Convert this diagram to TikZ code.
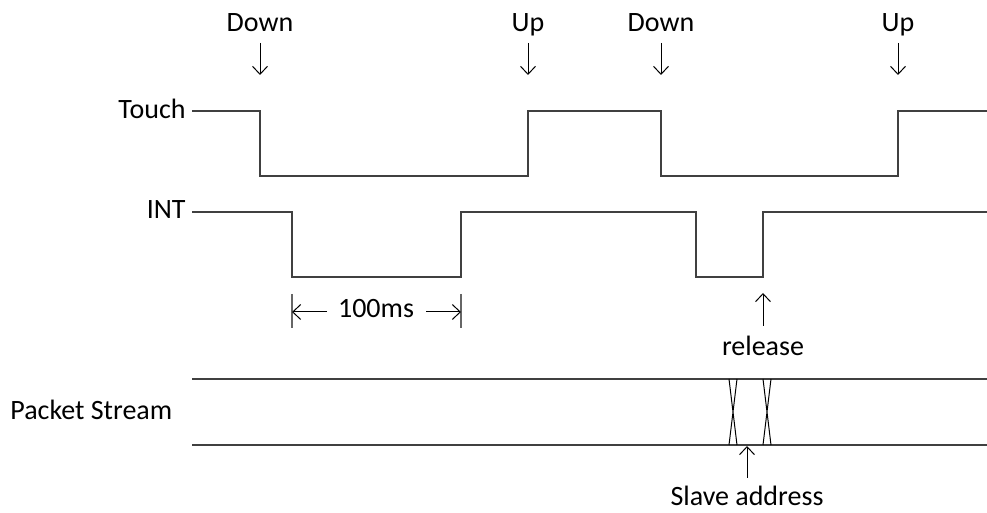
\documentclass[tikz,border=0pt]{standalone}
\usepackage{fontspec}
\setmainfont{Carlito}
\usetikzlibrary{arrows.meta}
\begin{document}
\begin{tikzpicture}[x=0.5pt,y=-0.5pt,
 lbl/.style={font=\fontsize{14}{16}\selectfont, inner sep=0pt},
 sig/.style={draw=black!75, line width=0.75pt},
 arr/.style={draw=black, line width=0.5pt, -{Straight Barb[length=4pt,width=7.5pt]}},
 tick/.style={draw=black!60, line width=0.75pt},
]
\useasboundingbox (0,0) rectangle (987,513);
% labels
\node[lbl, anchor=base east] (touch) at (186,119) {Touch};
\node[lbl, anchor=base east] (int) at (186,219) {INT};
\node[lbl, anchor=base west] (pkt) at (10,420) {Packet Stream};
\node[lbl, anchor=base] (d1) at (260,32) {Down};
\node[lbl, anchor=base] (u1) at (528,32) {Up};
\node[lbl, anchor=base] (d2) at (661,32) {Down};
\node[lbl, anchor=base] (u2) at (898,32) {Up};
\node[lbl, anchor=base] (ms) at (376,318) {100ms};
\node[lbl, anchor=base] (rel) at (763,356) {release};
\node[lbl, anchor=base] (slv) at (747,506) {Slave address};
% edge arrows
\foreach \n/\x in {d1/260,u1/528,d2/661,u2/898}{
  \coordinate (\n a) at (\x,43);
  \coordinate (\n b) at (\x,75);
  \draw[arr] (\n a) -- (\n b);
}
% Touch waveform
\draw[sig] (192,111) -- (260,111) -- (260,176) -- (528,176) -- (528,111)
  -- (661,111) -- (661,176) -- (898,176) -- (898,111) -- (987,111);
% INT waveform
\draw[sig] (192,212) -- (292,212) -- (292,277) -- (461,277) -- (461,212)
  -- (696,212) -- (696,277) -- (763,277) -- (763,212) -- (987,212);
% 100ms dimension
\coordinate (t1a) at (292,294); \coordinate (t1b) at (292,328);
\coordinate (t2a) at (461,294); \coordinate (t2b) at (461,328);
\draw[tick] (t1a) -- (t1b);
\draw[tick] (t2a) -- (t2b);
\coordinate (la) at (327,312); \coordinate (lb) at (292,312);
\coordinate (ra) at (426,312); \coordinate (rb) at (461,312);
\draw[arr] (la) -- (lb);
\draw[arr] (ra) -- (rb);
% release arrow
\coordinate (rela) at (763,326); \coordinate (relb) at (763,293);
\draw[arr] (rela) -- (relb);
% packet stream
\draw[sig] (192,379) -- (987,379);
\draw[sig] (192,445) -- (987,445);
\draw[draw=black, line width=0.5pt] (729,379) -- (737,445) (737,379) -- (729,445);
\draw[draw=black, line width=0.5pt] (763,379) -- (771,445) (771,379) -- (763,445);
% slave address arrow
\coordinate (sla) at (747,478); \coordinate (slb) at (747,446);
\draw[arr] (sla) -- (slb);
\end{tikzpicture}
\end{document}
